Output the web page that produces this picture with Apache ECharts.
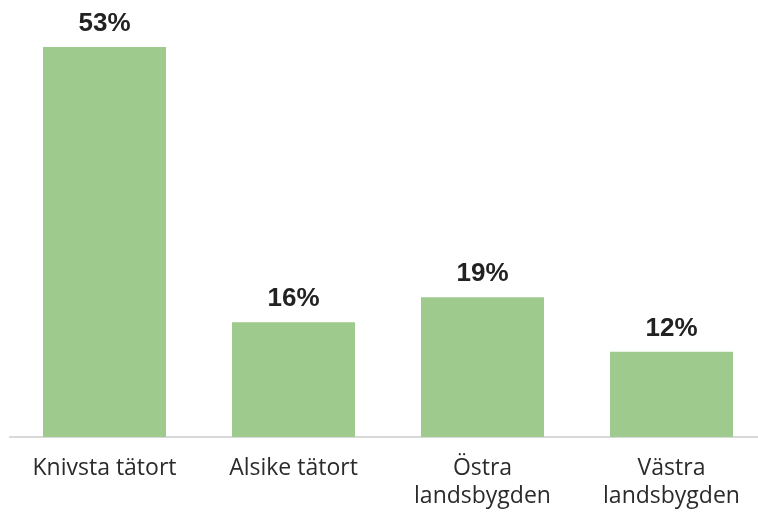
<!DOCTYPE html>
<html>
<head>
<meta charset="utf-8">
<script src="https://cdn.jsdelivr.net/npm/echarts@6/dist/echarts.min.js"></script>
<style>
  html, body { margin: 0; padding: 0; background: #fff; }
  #main { width: 758px; height: 512px; }
</style>
</head>
<body>
<div id="main"></div>
<script>
// data (bar heights, labels rounded to whole percent)
var categories = ['Knivsta tätort', 'Alsike tätort', 'Östra\nlandsbygden', 'Västra\nlandsbygden'];
var shares = [53, 15.6, 19, 11.6];

var chart = echarts.init(document.getElementById('main'));

var option = {
  animation: false,
  grid: { left: 10, right: -8, top: 47, bottom: 75, outerBoundsMode: 'none' },
  xAxis: {
    type: 'category',
    data: categories,
    axisLine: { lineStyle: { color: '#d9d9d9', width: 2 } },
    axisTick: { show: false },
    axisLabel: {
      color: '#2b2b2b',
      fontFamily: 'Open Sans',
      fontSize: 23,
      lineHeight: 28,
      margin: 17,
      interval: 0
    }
  },
  yAxis: {
    type: 'value',
    min: 0,
    max: 53,
    show: false,
    splitLine: { show: false }
  },
  series: [{
    type: 'bar',
    data: shares,
    barWidth: 123,
    itemStyle: { color: '#9ecb8d' },
    label: {
      show: true,
      position: 'top',
      distance: 10,
      formatter: function (p) { return Math.round(p.value) + '%'; },
      color: '#222',
      fontFamily: 'Liberation Sans',
      fontWeight: 'bold',
      fontSize: 26
    }
  }]
};

option && chart.setOption(option);
</script>
</body>
</html>
